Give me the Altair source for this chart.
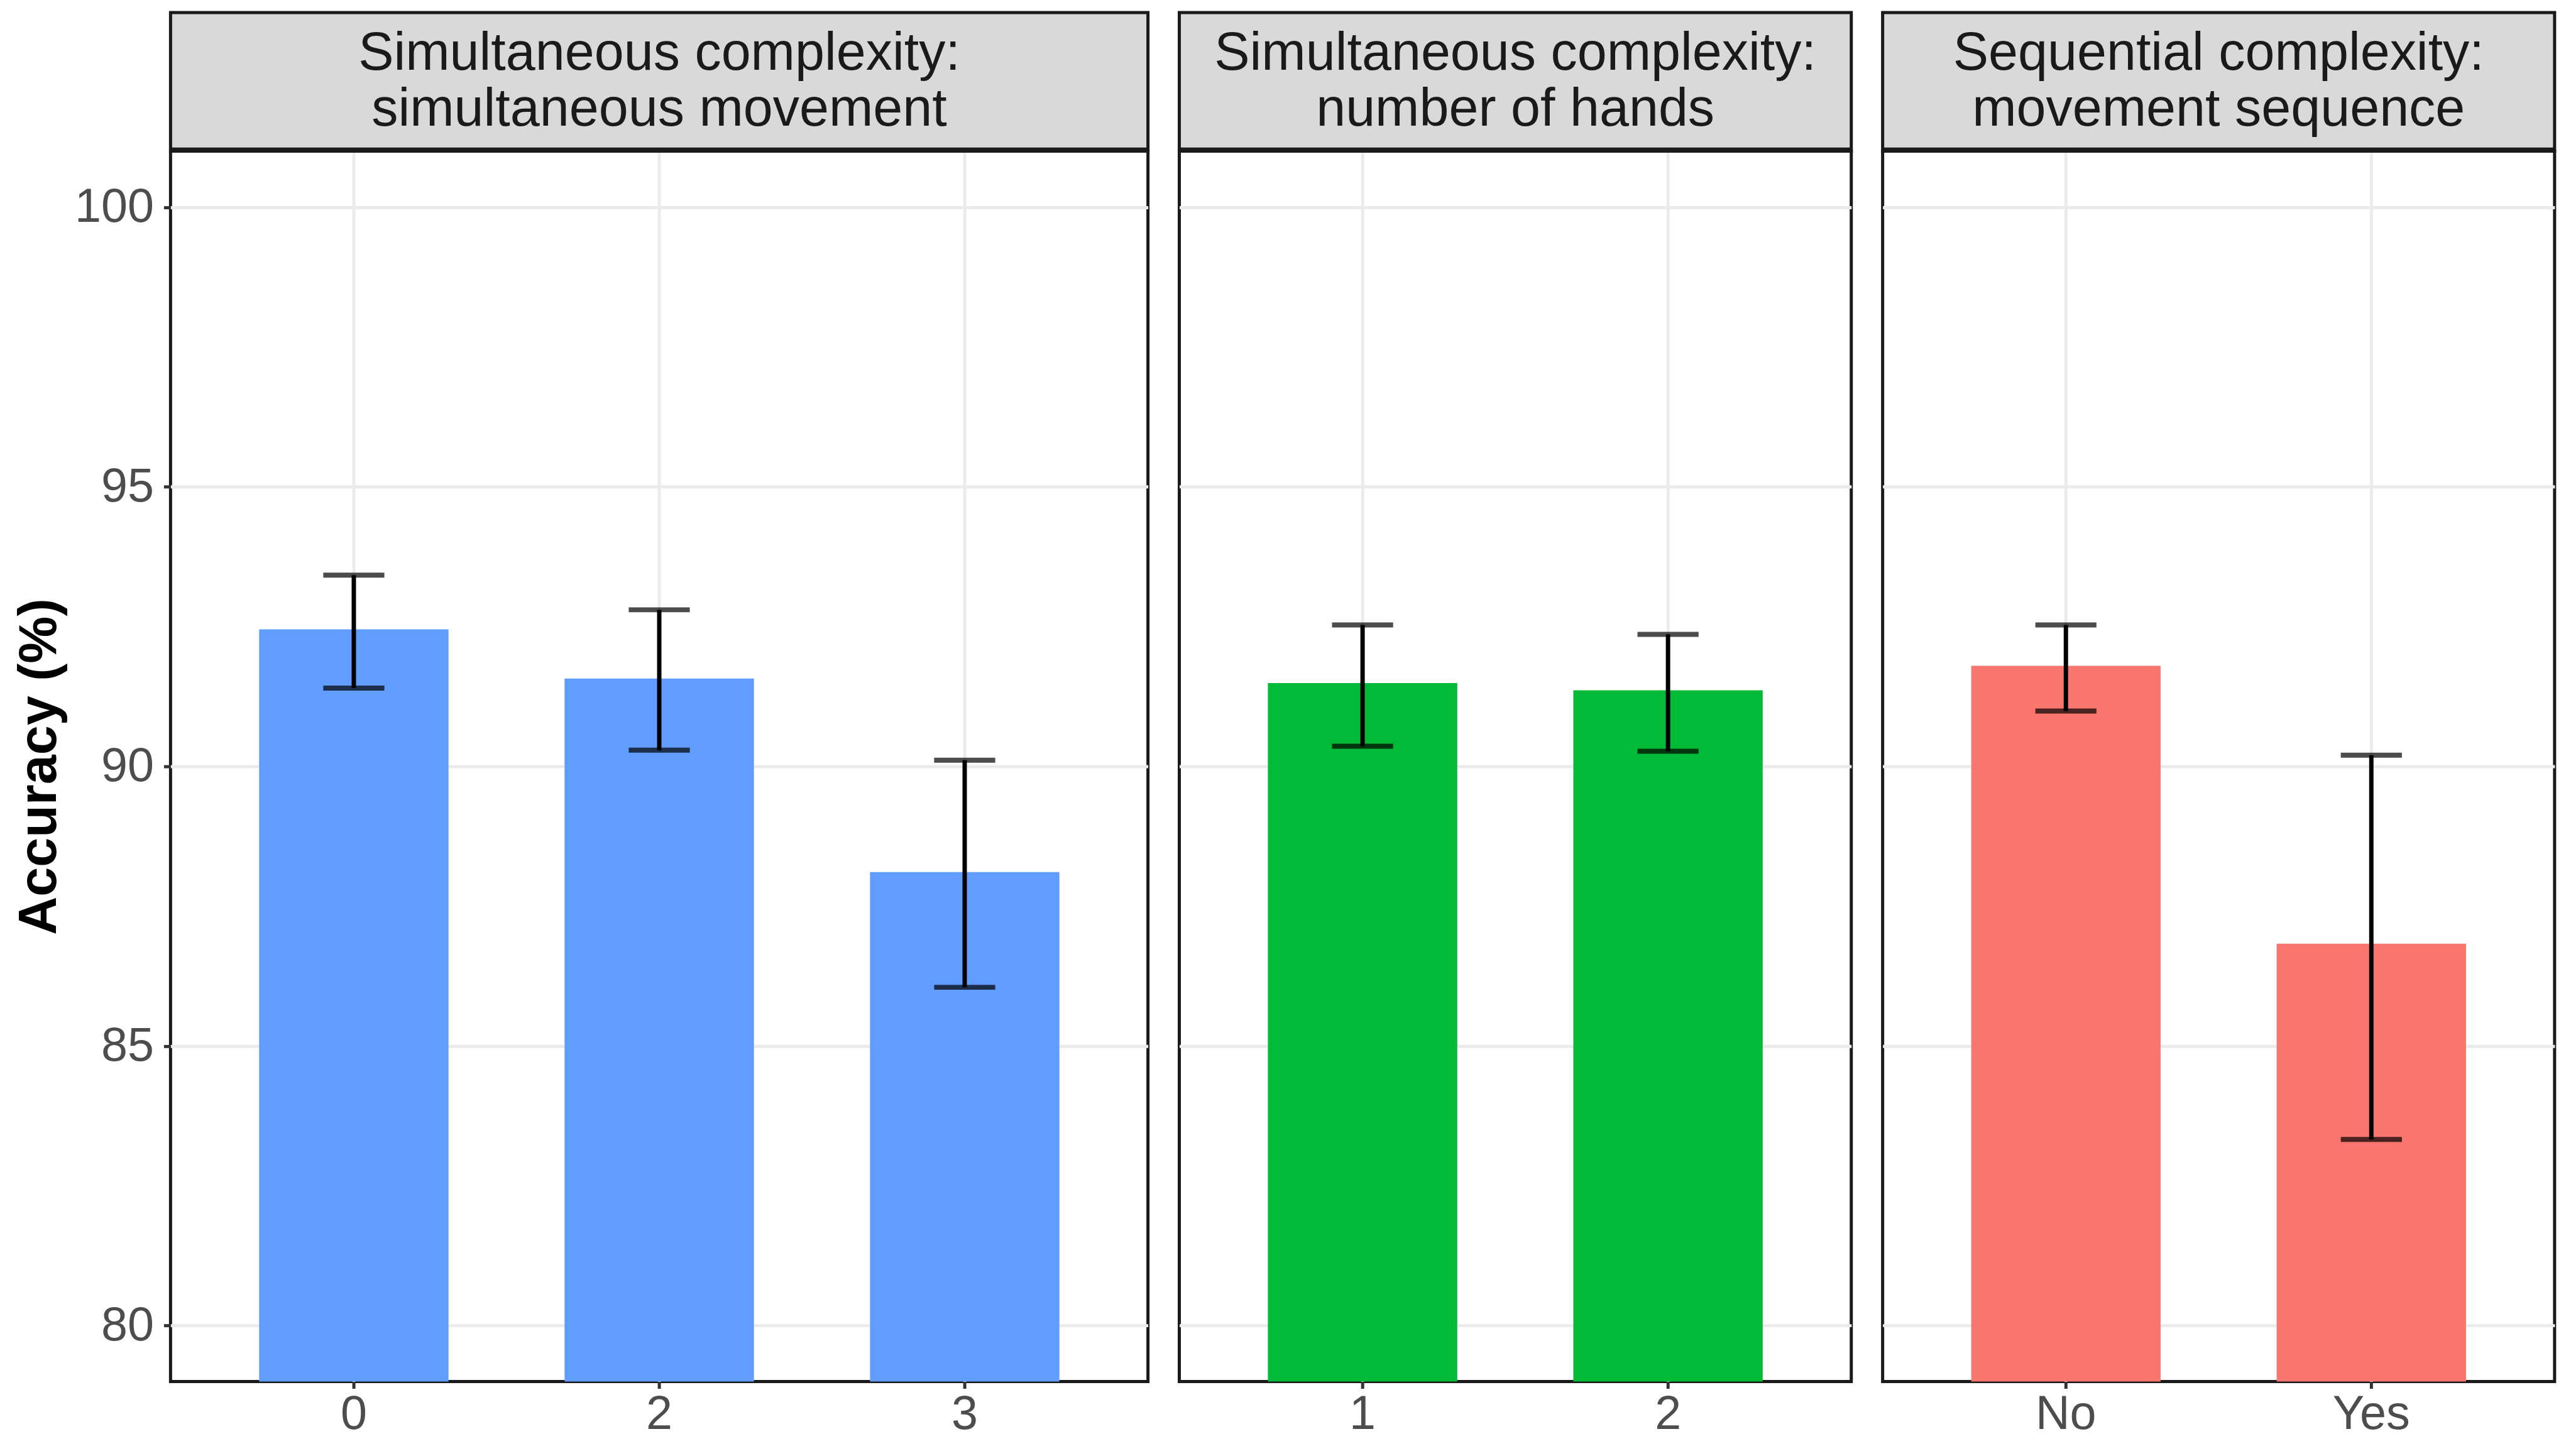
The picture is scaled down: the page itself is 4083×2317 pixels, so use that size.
import altair as alt
import pandas as pd

FONT = "Liberation Sans"

# ---- data ----
panel_titles = [
    "Simultaneous complexity:\nsimultaneous movement",
    "Simultaneous complexity:\nnumber of hands",
    "Sequential complexity:\nmovement sequence",
]
p1_levels = ["0", "2", "3"]
p1_mean = [92.45, 91.57, 88.11]
p1_lo = [91.40, 90.29, 86.05]
p1_hi = [93.42, 92.80, 90.11]

p2_levels = ["1", "2"]
p2_mean = [91.49, 91.36]
p2_lo = [90.36, 90.27]
p2_hi = [92.53, 92.36]

p3_levels = ["No", "Yes"]
p3_mean = [91.80, 86.83]
p3_lo = [90.99, 83.33]
p3_hi = [92.53, 90.20]

bar_colors = ["#619CFF", "#00BA38", "#F8766D"]
y_ticks = [80, 85, 90, 95, 100]

UNIT = 489
H = 1970
STRIP_H = 222
GRID = "#EBEBEB"
BORDER = "#1A1A1A"


def panel(i, levels, mean, lo, hi, first):
    W = UNIT * (len(levels) + 0.2)
    df = pd.DataFrame({"level": levels, "mean": mean, "lo": lo, "hi": hi})
    xscale = alt.Scale(paddingInner=0.38, paddingOuter=0.29)
    xaxis = alt.Axis(
        title=None, labelAngle=0, labelFontSize=76, labelColor="#4D4D4D",
        labelFont=FONT, labelPadding=4, domain=False, ticks=True, tickSize=11,
        tickWidth=5, tickColor="#333333", grid=True, gridColor=GRID,
        gridWidth=5, bandPosition=0.5,
    )
    yscale = alt.Scale(domain=[79, 101], nice=False, zero=False)
    if first:
        yaxis = alt.Axis(
            title="Accuracy (%)", titleFontSize=85, titleFontWeight="bold",
            titleColor="black", titleFont=FONT, titlePadding=12,
            values=y_ticks, format="d", labelLimit=400, labelFontSize=76,
            labelColor="#4D4D4D", labelFont=FONT, labelPadding=16,
            domain=False, tickSize=11, tickWidth=5, tickColor="#333333",
            grid=True, gridColor=GRID, gridWidth=5,
        )
    else:
        yaxis = alt.Axis(
            title=None, values=y_ticks, labels=False, ticks=False,
            domain=False, grid=True, gridColor=GRID, gridWidth=5,
        )
    x = alt.X("level:N", sort=levels, scale=xscale, axis=xaxis)
    base = alt.Chart(df)
    bars = base.mark_bar(color=bar_colors[i], clip=True).encode(
        x=x, y=alt.Y("mean:Q", scale=yscale, axis=yaxis)
    )
    xs = alt.X("level:N", sort=levels)
    rules = base.mark_rule(color="black", strokeWidth=7).encode(
        x=xs, y=alt.Y("lo:Q"), y2="hi:Q"
    )
    cap_lo = base.mark_tick(color="black", size=UNIT * 0.2, thickness=8).encode(
        x=xs, y=alt.Y("lo:Q")
    )
    cap_hi = base.mark_tick(color="black", size=UNIT * 0.2, thickness=8).encode(
        x=xs, y=alt.Y("hi:Q")
    )
    sdf = pd.DataFrame({"t": [panel_titles[i]]})
    strip_rect = alt.Chart(sdf).mark_rect(
        fill="#D9D9D9", stroke=BORDER, strokeWidth=5, clip=False
    ).encode(
        x=alt.value(0), x2=alt.value(W), y=alt.value(-STRIP_H), y2=alt.value(0)
    )
    strip_bottom = alt.Chart(sdf).mark_rule(
        color=BORDER, strokeWidth=8, clip=False
    ).encode(x=alt.value(0), x2=alt.value(W), y=alt.value(-2))
    strip_text = alt.Chart(sdf).mark_text(
        fontSize=85, font=FONT, color="#1A1A1A", lineBreak="\n",
        lineHeight=89, align="center", baseline="middle", clip=False,
    ).encode(x=alt.value(W / 2), y=alt.value(-STRIP_H + 66), text="t:N")
    return alt.layer(
        bars, rules, cap_lo, cap_hi, strip_rect, strip_bottom, strip_text
    ).properties(width=W, height=H)


p1 = panel(0, p1_levels, p1_mean, p1_lo, p1_hi, True)
p2 = panel(1, p2_levels, p2_mean, p2_lo, p2_hi, False)
p3 = panel(2, p3_levels, p3_mean, p3_lo, p3_hi, False)

chart = alt.hconcat(p1, p2, p3, spacing=36).properties(
    padding={"left": 10, "top": 0, "right": 3, "bottom": 0},
    background="white",
).configure_view(stroke=BORDER, strokeWidth=5).configure_axis(
    labelFont=FONT, titleFont=FONT
)

chart.save("out.html", embed_options={"renderer": "svg", "actions": False})
